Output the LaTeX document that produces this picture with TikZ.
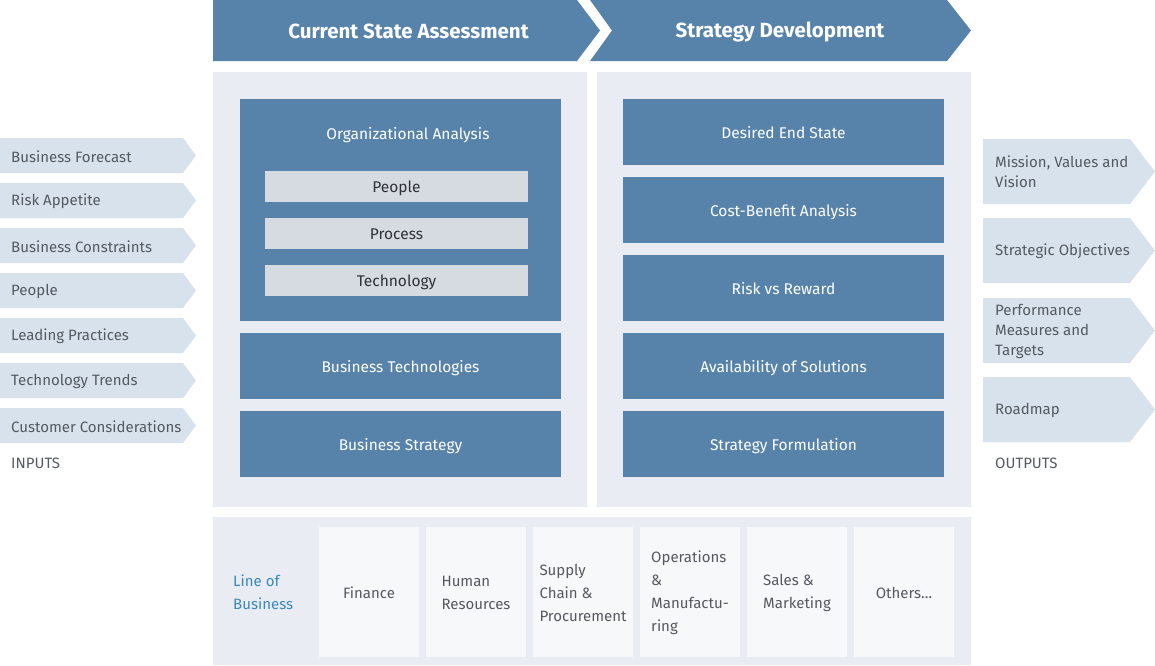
\documentclass[tikz,border=0pt]{standalone}
\usepackage{fontspec}
\setmainfont{Fira Sans}
\definecolor{steel}{HTML}{5783AB}
\definecolor{panel}{HTML}{E9ECF3}
\definecolor{chip}{HTML}{D6DAE1}
\definecolor{flow}{HTML}{D7E2EC}
\definecolor{card}{HTML}{F7F8FA}
\definecolor{ink}{HTML}{555A60}
\definecolor{darkink}{HTML}{2F3338}
\definecolor{lob}{HTML}{3B88B8}
\tikzset{
  base/.style={inner sep=0pt, outer sep=0pt, anchor=north west},
  boxlabel/.style={text height=13.5pt, text depth=1.5pt, font=\fontsize{15.5}{18}\selectfont},
  bluebox/.style={base, boxlabel, fill=steel, text=white, minimum width=321pt, minimum height=66pt},
  chipbox/.style={base, boxlabel, fill=chip, text=darkink, minimum width=263pt, minimum height=31pt},
  panelbox/.style={base, fill=panel, minimum width=374pt, minimum height=435pt},
  cardbox/.style={base, fill=card, minimum width=100pt, minimum height=130pt},
  cardtext/.style={text=ink, align=left, font=\fontsize{15}{23}\selectfont},
  intext/.style={anchor=west, text=ink, font=\fontsize{15}{17}\selectfont, inner sep=0pt},
  outtext/.style={anchor=west, text=ink, align=left, font=\fontsize{15}{20}\selectfont, inner sep=0pt},
  headtext/.style={text=white, font=\fontsize{20.5}{24}\bfseries\selectfont},
}
\begin{document}
\begin{tikzpicture}[x=1pt, y=-1pt]
\useasboundingbox (0,0) rectangle (1155,665);

% phase chevrons
\fill[steel] (213,0) -- (577,0) -- (600,30.5) -- (577,61) -- (213,61) -- cycle;
\fill[steel] (590,0) -- (947,0) -- (971,30.5) -- (947,61) -- (590,61) -- (612,30.5) -- cycle;
\node[headtext] (h1) at (408.5,31) {Current State Assessment};
\node[headtext] (h2) at (780,32) {Strategy Development};

% phase panels
\node[panelbox] (pl) at (213,72) {};
\node[panelbox] (pr) at (597,72) {};

% current state assessment
\node[base, fill=steel, minimum width=321pt, minimum height=222pt] (org) at (240,99) {};
\node[text=white, font=\fontsize{15.5}{18}\selectfont] (orgt) at (408,135) {Organizational Analysis};
\node[chipbox] (c1) at (265,171) {People};
\node[chipbox] (c2) at (265,218) {Process};
\node[chipbox] (c3) at (265,265) {Technology};
\node[bluebox] (bt) at (240,333) {Business Technologies};
\node[bluebox] (bs) at (240,411) {Business Strategy};

% strategy development
\node[bluebox] (s1) at (623,99) {Desired End State};
\node[bluebox] (s2) at (623,177) {Cost-Benefit Analysis};
\node[bluebox] (s3) at (623,255) {Risk vs Reward};
\node[bluebox] (s4) at (623,333) {Availability of Solutions};
\node[bluebox] (s5) at (623,411) {Strategy Formulation};

% inputs
\foreach \y/\t [count=\i] in {138/Business Forecast, 183/Risk Appetite, 228/Business Constraints,
  273/People, 318/Leading Practices, 363/Technology Trends, 408/Customer Considerations}{
  \fill[flow] (0,\y) -- (183,\y) -- (196,\y+17.5) -- (183,\y+35) -- (0,\y+35) -- cycle;
  \node[intext] (in\i) at (11,\y+18.5) {\t};
}
\node[intext] (inputs) at (11,463) {INPUTS};

% outputs
\foreach \y/\t [count=\i] in {139/{Mission, Values and\\Vision}, 218/{Strategic Objectives},
  298/{Performance\\Measures and\\Targets}, 377/Roadmap}{
  \fill[flow] (983,\y) -- (1130,\y) -- (1155,\y+32.5) -- (1130,\y+65) -- (983,\y+65) -- cycle;
  \node[outtext] (out\i) at (995,\y+33) {\t};
}
\node[intext] (outputs) at (995,463) {OUTPUTS};

% line of business
\node[base, fill=panel, minimum width=758pt, minimum height=148pt] (lobp) at (213,517) {};
\node[anchor=west, inner sep=0pt, text=lob, align=left, font=\fontsize{15}{23}\selectfont] (lobt) at (233,592) {Line of\\Business};
\foreach \x/\t [count=\i] in {319/Finance, 426/{Human\\Resources}, 533/{Supply\\Chain \&\\Procurement},
  640/{Operations\\\&\\Manufactu-\\ring}, 747/{Sales \&\\Marketing}, 854/{Others\dots}}{
  \node[cardbox] (card\i) at (\x,527) {};
  \node[cardtext] (cardt\i) at (\x+50,592.5) {\t};
}
\end{tikzpicture}
\end{document}
